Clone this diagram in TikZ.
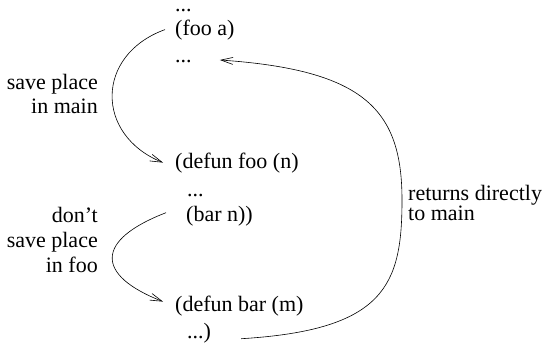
\documentclass[tikz,border=0pt]{standalone}
\usepackage{fontspec}
\setmainfont{Liberation Serif}
\usetikzlibrary{arrows.meta}
\begin{document}
\begin{tikzpicture}[x=1pt,y=-1pt,
  code/.style={anchor=base west,inner sep=0pt,font=\fontsize{22}{24}\selectfont},
  lab/.style={inner sep=0pt,font=\fontsize{22}{24}\selectfont},
  flow/.style={line width=0.6pt,-{Straight Barb[length=12pt,width=7pt,line width=0.6pt]}}]
\useasboundingbox (0,0) rectangle (548,343);
\node[code] (l1) at (175,11) {...};
\node[code] (foo) at (175,35) {(foo a)};
\node[code] (d1) at (175,62) {...};
\node[code] (defoo) at (175,168) {(defun foo (n)};
\node[code] (d2) at (187,196) {...};
\node[code] (bar) at (186,221) {(bar n))};
\node[code] (debar) at (175,311) {(defun bar (m)};
\node[code] (endn) at (187,338) {...)};
\node[lab,align=right,anchor=east] (lab1) at (98,94) {save place\\in main};
\node[lab,align=right,anchor=east,font=\fontsize{22}{25}\selectfont] (lab2) at (98,240) {don’t\\save place\\in foo};
\node[lab,align=left,anchor=west,font=\fontsize{22}{20}\selectfont] (lab3) at (408,203) {returns directly\\to main};
\coordinate (r) at (402,200);
\draw[flow] ([xshift=-10pt]foo.west) .. controls (95,55) and (95,135) .. ([xshift=-12pt]defoo.west);
\draw[flow] ([xshift=-20pt,yshift=3pt]bar.west) .. controls (95,240) and (95,275) .. ([xshift=-12pt,yshift=4pt]debar.west);
\draw[flow] ([xshift=30pt,yshift=-6pt]endn.east) .. controls (385,330) and (402,285) .. (r)
  .. controls (402,110) and (365,70) .. ([xshift=28pt,yshift=2pt]d1.base east);
\end{tikzpicture}
\end{document}
